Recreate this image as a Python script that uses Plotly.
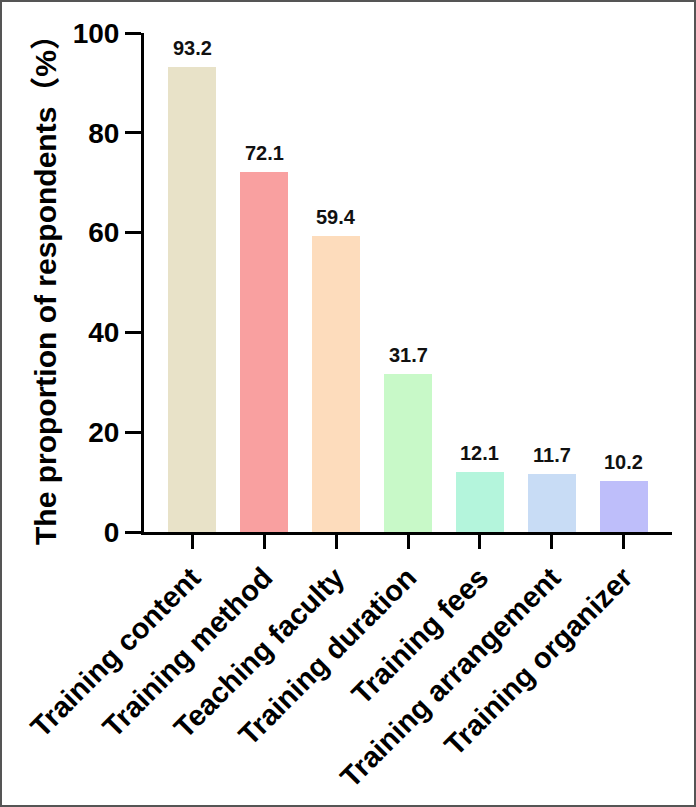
import plotly.graph_objects as go

categories = ["Training content", "Training method", "Teaching faculty", "Training duration",
              "Training fees", "Training arrangement", "Training organizer"]
values = [93.2, 72.1, 59.4, 31.7, 12.1, 11.7, 10.2]
colors = ["#E8E2C8", "#F9A0A0", "#FDDCBC", "#C8F9C8", "#B4F5DC", "#C8DCF5", "#BEBEFA"]
y_ticks = [0, 20, 40, 60, 80, 100]

W, H = 696, 807
ml, mr, mt, mb = 144, 24, 33, 275
pw, ph = W - ml - mr, H - mt - mb

FONT = "Liberation Sans, Arial, Noto Sans CJK SC, sans-serif"

fig = go.Figure()
fig.add_trace(go.Bar(
    x=categories, y=values, marker=dict(color=colors, line=dict(width=0)),
    width=0.667, showlegend=False, hoverinfo="x+y",
))

annotations = []
for c, v in zip(categories, values):
    annotations.append(dict(
        x=c, y=v, xref="x", yref="y", text=f"{v:.1f}", showarrow=False,
        yanchor="bottom", yshift=6, font=dict(size=20, color="#111", family=FONT, weight="bold"),
    ))

fig.update_layout(
    width=W, height=H, margin=dict(l=ml, r=mr, t=mt, b=mb, pad=0),
    paper_bgcolor="white", plot_bgcolor="white",
    font=dict(family=FONT, color="#000"),
    bargap=0,
    annotations=annotations,
    xaxis=dict(
        type="category", range=[-0.667, 6.667], showline=True, linecolor="#000", linewidth=3,
        ticks="outside", ticklen=14, tickwidth=3, tickcolor="#000", tickangle=-45,
        tickfont=dict(size=29, family=FONT, color="#000", weight="bold"),
        showgrid=False, zeroline=False, fixedrange=True,
    ),
    yaxis=dict(
        range=[0, 100], tickvals=y_ticks, showline=True, linecolor="#000", linewidth=3,
        ticks="outside", ticklen=16, tickwidth=3, tickcolor="#000",
        tickfont=dict(size=28, family=FONT, color="#000", weight="bold"),
        showgrid=False, zeroline=False, fixedrange=True,
        title=dict(text="The proportion of respondents（%）",
                   font=dict(size=30, family=FONT, color="#000", weight="bold"), standoff=8),
    ),
    shapes=[dict(
        type="rect", xref="paper", yref="paper",
        x0=-(ml - 1) / pw, x1=1 + (mr - 1) / pw, y0=-(mb - 1) / ph, y1=1 + (mt - 1) / ph,
        line=dict(color="#555", width=2), fillcolor="rgba(0,0,0,0)", layer="above",
    )],
)

fig.write_html("out.html", config={"displayModeBar": False})
